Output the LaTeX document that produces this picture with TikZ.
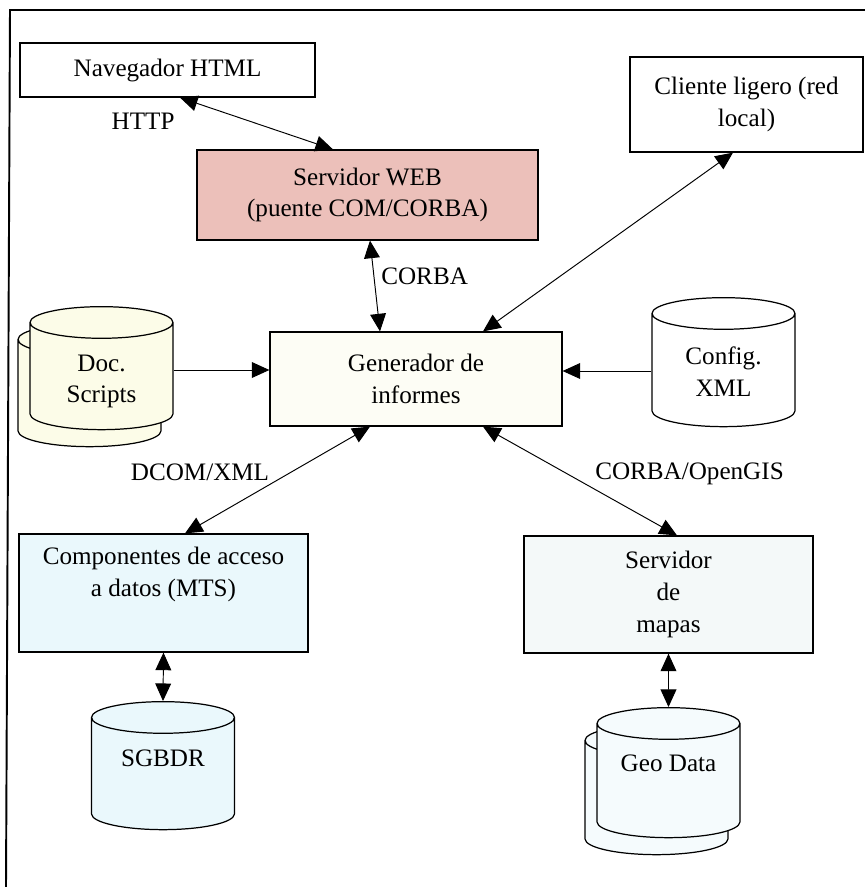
\documentclass[tikz,border=0pt]{standalone}
\usepackage{fontspec}
\setmainfont{Liberation Serif}
\usetikzlibrary{shapes.geometric,arrows.meta}

\definecolor{webpink}{RGB}{236,192,186}
\definecolor{genfill}{RGB}{253,253,245}
\definecolor{docfill}{RGB}{252,252,232}
\definecolor{compfill}{RGB}{234,248,252}
\definecolor{mapfill}{RGB}{244,249,249}
\definecolor{geofill}{RGB}{245,251,253}

\tikzset{
  box/.style={draw,rectangle,line width=0.7pt,align=center},
  dbase/.style={draw,cylinder,shape border rotate=90,aspect=2.7,
    minimum width=2.86cm,line width=0.7pt},
  link/.style={line width=0.55pt,
    {Triangle[length=10pt,width=9pt]}-{Triangle[length=10pt,width=9pt]}},
  feed/.style={line width=0.55pt,-{Triangle[length=10pt,width=9pt]}}
}

\begin{document}
\begin{tikzpicture}[font=\fontsize{14.3}{18}\selectfont]
\useasboundingbox (0,0) rectangle (17.3,-17.74);
\draw[line width=1.1pt] (17.3,-0.2) -- (0.2,-0.2) -- (0.12,-17.74);

\node[box,minimum width=5.9cm,minimum height=1.08cm,fill=white] (nav) at (3.35,-1.40) {Navegador HTML};
\node[box,minimum width=6.82cm,minimum height=1.8cm,fill=webpink] (web) at (7.35,-3.90) {Servidor WEB\\(puente COM/CORBA)};
\node[box,minimum width=4.66cm,minimum height=1.9cm,fill=white] (cli) at (14.93,-2.09) {Cliente ligero (red\\local)};
\node[box,minimum width=5.84cm,minimum height=1.88cm,fill=genfill] (gen) at (8.32,-7.58) {Generador de\\informes};
\node[box,minimum width=5.78cm,minimum height=2.36cm,fill=compfill,
  label={[anchor=north,align=center,yshift=-0.15cm]north:Componentes de acceso\\a datos (MTS)}] (comp) at (3.27,-11.86) {};
\node[box,minimum width=5.78cm,minimum height=2.34cm,fill=mapfill] (map) at (13.37,-11.89) {Servidor\\de\\mapas};

\node[dbase,minimum height=2.46cm,fill=docfill] (docback) at (1.79,-7.93) {};
\node[dbase,minimum height=2.46cm,fill=docfill,
  label={[align=center,yshift=-0.04cm]center:Doc.\\Scripts}] (doc) at (2.03,-7.59) {};
\node[dbase,minimum height=2.58cm,fill=white,
  label={[align=center,yshift=0.04cm]center:Config.\\XML}] (cfg) at (14.47,-7.47) {};
\node[dbase,minimum height=2.56cm,fill=compfill,
  label={[yshift=0.38cm]center:SGBDR}] (sgbdr) at (3.26,-15.54) {};
\node[dbase,minimum height=2.6cm,fill=geofill] (geoback) at (13.13,-16.02) {};
\node[dbase,minimum height=2.6cm,fill=geofill,
  label={[yshift=0.42cm]center:Geo Data}] (geo) at (13.37,-15.68) {};

\coordinate (docout) at ([yshift=0.19cm]doc.east);
\coordinate (cfgin) at ([yshift=0.05cm]cfg.west);

\draw[link] ([xshift=0.25cm]nav.south) -- ([xshift=-0.69cm]web.north)
  node[at start,anchor=north east,inner sep=0pt,xshift=-0.1cm,yshift=-0.3cm] {HTTP};
\draw[link] ([xshift=0.05cm]web.south) -- ([xshift=-0.72cm]gen.north)
  node[midway,right,yshift=0.2cm] {CORBA};
\draw[link] ([xshift=-0.27cm]cli.south) -- ([xshift=1.34cm]gen.north);
\draw[feed] (docout) -- (docout -| gen.west);
\draw[feed] (cfgin) -- (cfgin -| gen.east);
\draw[link] ([xshift=-0.92cm]gen.south) -- ([xshift=0.43cm]comp.north)
  node[pos=0.43,anchor=east,xshift=-0.3cm] {DCOM/XML};
\draw[link] ([xshift=1.34cm]gen.south) -- ([xshift=0.17cm]map.north)
  node[pos=0.43,anchor=west,xshift=0.45cm] {CORBA/OpenGIS};
\draw[link] (comp.south) -- (sgbdr.north);
\draw[link] (map.south) -- (geo.north);
\end{tikzpicture}
\end{document}
